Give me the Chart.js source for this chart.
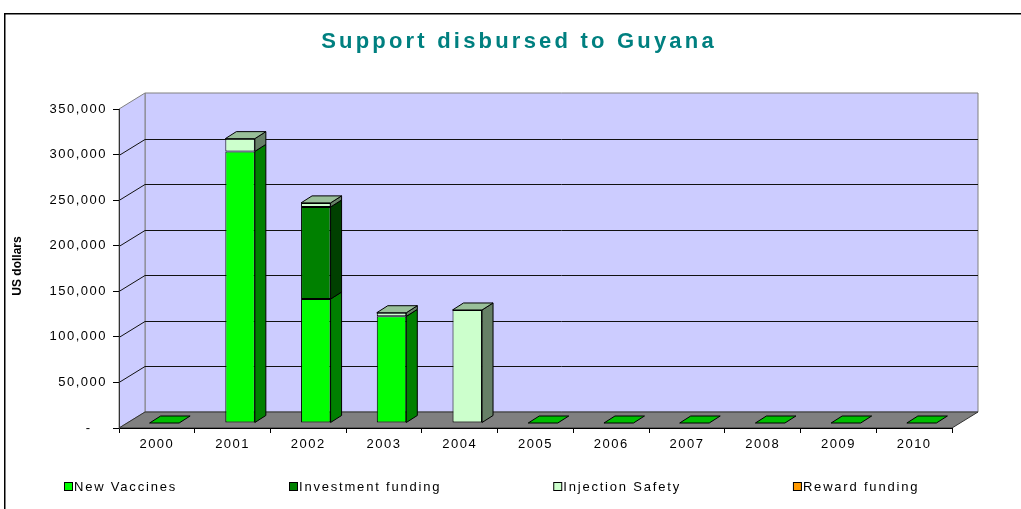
<!DOCTYPE html>
<html>
<head>
<meta charset="utf-8">
<title>Support disbursed to Guyana</title>
<script src="https://cdn.jsdelivr.net/npm/chart.js"></script>
<style>
  html, body { margin: 0; padding: 0; background: #fff; overflow: hidden; }
  #chart { display: block; width: 1021px; height: 509px; }
</style>
</head>
<body>
<canvas id="chart" width="1021" height="509"></canvas>
<script>
const categories = ['2000', '2001', '2002', '2003', '2004', '2005', '2006', '2007', '2008', '2009', '2010'];
const newVaccines = [0, 298000, 136000, 117000, 0, 0, 0, 0, 0, 0, 0];
const investmentFunding = [0, 0, 101000, 0, 0, 0, 0, 0, 0, 0, 0];
const injectionSafety = [0, 14000, 4500, 4000, 124000, 0, 0, 0, 0, 0, 0];
const rewardFunding = [0, 0, 0, 0, 0, 0, 0, 0, 0, 0, 0];
const seriesNames = ['New Vaccines', 'Investment funding', 'Injection Safety', 'Reward funding'];
const seriesColors = ['#00FF00', '#008000', '#CCFFCC', '#FF9900'];
const yTickLabels = ['-', '50,000', '100,000', '150,000', '200,000', '250,000', '300,000', '350,000'];
const chartTitle = 'Support disbursed to Guyana';
const yTitle = 'US dollars';

// depth of the box and of the bars (fake 3d)
const wall = { dx: 26, dy: -16 };
const bar = { dx: 11, dy: -7, ox: 7.5, oy: -5 };

function shade(hex, f) {
    const n = parseInt(hex.slice(1), 16);
    const r = Math.round(((n >> 16) & 255) * f);
    const g = Math.round(((n >> 8) & 255) * f);
    const b = Math.round((n & 255) * f);
    return 'rgb(' + r + ',' + g + ',' + b + ')';
}

function poly(ctx, pts, fill, stroke) {
    ctx.beginPath();
    ctx.moveTo(pts[0][0], pts[0][1]);
    for (let i = 1; i < pts.length; i++) ctx.lineTo(pts[i][0], pts[i][1]);
    ctx.closePath();
    if (fill) { ctx.fillStyle = fill; ctx.fill(); }
    if (stroke) { ctx.strokeStyle = stroke; ctx.lineWidth = 1; ctx.stroke(); }
}

const box3d = {
    id: 'box3d',
    beforeDraw(chart) {
        const { ctx, chartArea: a, scales: { y } } = chart;
        ctx.save();
        // outer frame, only top and left edges fall inside the picture
        ctx.fillStyle = '#000';
        ctx.fillRect(4, 13, chart.width - 4, 1.5);
        ctx.fillRect(4, 13, 1.5, chart.height - 13);

        const L = a.left, R = a.right, T = a.top, B = a.bottom;
        // back wall
        poly(ctx, [[L + wall.dx, T + wall.dy], [R + wall.dx, T + wall.dy], [R + wall.dx, B + wall.dy], [L + wall.dx, B + wall.dy]], '#CCCCFF', '#808080');
        // left wall
        poly(ctx, [[L, T], [L + wall.dx, T + wall.dy], [L + wall.dx, B + wall.dy], [L, B]], '#CCCCFF', '#808080');
        // floor
        poly(ctx, [[L, B], [R, B], [R + wall.dx, B + wall.dy], [L + wall.dx, B + wall.dy]], '#808080', '#333');

        // gridlines on the walls
        ctx.strokeStyle = '#111';
        ctx.lineWidth = 1;
        y.ticks.forEach(t => {
            if (t.value <= y.min || t.value >= y.max) return;
            const py = Math.round(y.getPixelForValue(t.value)) + 0.5;
            ctx.beginPath();
            ctx.moveTo(L, py);
            ctx.lineTo(L + wall.dx, py + wall.dy);
            ctx.lineTo(R + wall.dx, py + wall.dy);
            ctx.stroke();
        });
        ctx.restore();
        ctx.letterSpacing = '1.5px';
    },
    beforeDatasetsDraw(chart) {
        chart.ctx.save();
        chart.ctx.translate(bar.ox, bar.oy);
    },
    afterDatasetsDraw(chart) {
        const ctx = chart.ctx;
        const sets = chart.data.datasets;
        const metas = sets.map((d, i) => chart.getDatasetMeta(i));
        categories.forEach((c, i) => {
            let top = -1;
            metas.forEach((m, d) => {
                const el = m.data[i];
                if (!sets[d].data[i]) return;
                const r = el.x + el.width / 2;
                poly(ctx, [[r, el.y], [r + bar.dx, el.y + bar.dy], [r + bar.dx, el.base + bar.dy], [r, el.base]],
                    shade(seriesColors[d], 0.5), '#000');
                top = d;
            });
            const d = top < 0 ? 0 : top;
            const el = metas[d].data[i];
            const l = el.x - el.width / 2, r = el.x + el.width / 2;
            const ty = top < 0 ? el.base : el.y;
            poly(ctx, [[l, ty], [r, ty], [r + bar.dx, ty + bar.dy], [l + bar.dx, ty + bar.dy]],
                shade(seriesColors[d], 0.75), '#000');
        });
        ctx.restore();
    },
    afterDraw(chart) {
        const ctx = chart.ctx;
        ctx.save();
        // title
        ctx.letterSpacing = '3.2px';
        ctx.font = 'bold 22px "Liberation Sans", Arial, sans-serif';
        ctx.fillStyle = '#008080';
        ctx.textAlign = 'center';
        ctx.textBaseline = 'middle';
        ctx.fillText(chartTitle, 519, 42);

        // y axis title
        ctx.letterSpacing = '0px';
        ctx.font = 'bold 12px "Liberation Sans", Arial, sans-serif';
        ctx.fillStyle = '#000';
        ctx.save();
        ctx.translate(18, 266);
        ctx.rotate(-Math.PI / 2);
        ctx.fillText(yTitle, 0, 0);
        ctx.restore();

        // legend
        ctx.letterSpacing = '1.8px';
        ctx.font = '13px "Liberation Sans", Arial, sans-serif';
        ctx.textAlign = 'left';
        let x = 64;
        const ly = 487;
        seriesNames.forEach((n, i) => {
            ctx.fillStyle = seriesColors[i];
            ctx.fillRect(x + 0.5, ly - 4.5, 8, 8);
            ctx.strokeStyle = '#000';
            ctx.lineWidth = 1;
            ctx.strokeRect(x + 0.5, ly - 4.5, 8, 8);
            ctx.fillStyle = '#000';
            ctx.fillText(n, x + 10, ly);
            x += 10 + ctx.measureText(n).width + 112;
        });
        ctx.restore();
    }
};

Chart.defaults.font.family = '"Liberation Sans", Arial, sans-serif';
Chart.defaults.font.size = 13;
Chart.defaults.color = '#000';

const seriesData = [newVaccines, investmentFunding, injectionSafety, rewardFunding];

new Chart(document.getElementById('chart'), {
    type: 'bar',
    data: {
        labels: categories,
        datasets: seriesNames.map((name, i) => ({
            label: name,
            data: seriesData[i],
            backgroundColor: seriesColors[i],
            borderColor: '#000',
            borderWidth: 1,
            borderSkipped: false,
            barPercentage: 1,
            categoryPercentage: 0.39,
            clip: false
        }))
    },
    options: {
        responsive: false,
        animation: false,
        layout: { padding: { left: 0, right: 69, top: 109, bottom: 51 } },
        plugins: {
            legend: { display: false },
            title: { display: false },
            tooltip: { enabled: false }
        },
        scales: {
            x: {
                stacked: true,
                grid: { display: true, drawOnChartArea: false, drawTicks: true, tickLength: 5, color: '#000', offset: true },
                border: { display: true, color: '#000', width: 1 },
                ticks: { autoSkip: false, maxRotation: 0, padding: 4, font: { size: 13 } },
                afterFit(scale) { scale.height = 30; }
            },
            y: {
                stacked: true,
                min: 0,
                max: 350000,
                grid: { display: true, drawOnChartArea: false, drawTicks: true, tickLength: 6, color: '#000' },
                border: { display: true, color: '#333', width: 1 },
                ticks: {
                    stepSize: 50000,
                    padding: 6,
                    font: { size: 13 },
                    callback: (v, i) => (i === 0 ? yTickLabels[i] + '   ' : yTickLabels[i])
                },
                afterFit(scale) { scale.width = 119; }
            }
        }
    },
    plugins: [box3d]
});
</script>
</body>
</html>
